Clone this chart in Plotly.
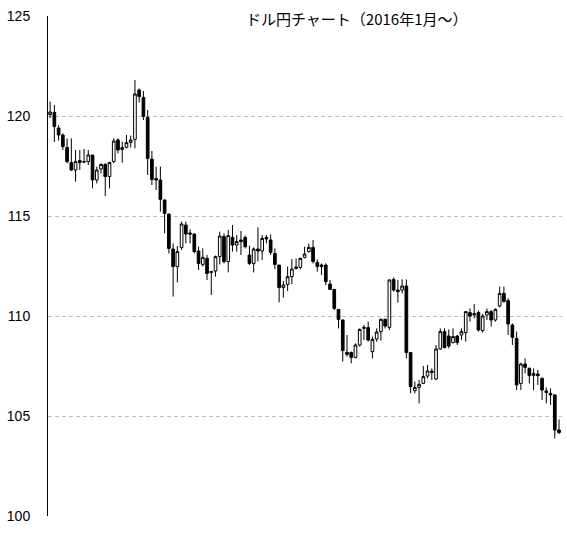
import plotly.graph_objects as go

# USD/JPY daily candles (Jan 2016 onwards)
open_ = [
    120.07, 120.18, 119.40, 119.05, 118.43, 117.67, 117.30, 117.77, 117.70, 117.72,
    118.05, 116.80, 117.35, 117.58, 116.97, 117.72, 118.80, 118.33, 118.43, 118.68,
    118.83, 121.30, 120.93, 119.93, 117.85, 116.87, 116.80, 115.80, 115.10, 113.35,
    112.47, 113.42, 114.55, 114.15, 114.10, 113.25, 112.58, 112.88, 112.17, 112.25,
    112.97, 113.97, 112.72, 113.93, 113.55, 113.80, 113.93, 113.05, 112.63, 113.35,
    113.25, 113.93, 113.80, 113.13, 112.55, 111.42, 111.58, 111.97, 112.38, 112.43,
    112.93, 113.22, 113.43, 112.68, 112.55, 112.55, 111.60, 111.33, 110.33, 109.80,
    108.18, 108.18, 107.93, 108.55, 109.38, 109.42, 108.22, 108.85, 109.22, 109.83,
    109.43, 111.83, 111.30, 111.30, 111.50, 108.17, 106.27, 106.43, 106.63, 107.00,
    107.25, 106.85, 108.35, 109.22, 109.00, 108.67, 109.00, 109.05, 109.17, 110.17,
    110.05, 110.17, 109.27, 110.05, 110.22, 109.80, 110.50, 111.13, 110.77, 109.55,
    108.88, 106.63, 107.60, 107.38, 107.02, 107.10, 106.88, 106.25, 106.13, 106.05,
    104.30,
]
high = [
    120.72, 120.55, 119.55, 119.13, 118.88, 118.88, 118.30, 118.30, 118.35, 118.30,
    118.05, 117.47, 117.63, 117.63, 117.72, 118.88, 118.88, 118.72, 119.05, 119.02,
    121.80, 121.38, 121.25, 120.30, 118.25, 117.47, 117.47, 115.83, 115.10, 113.63,
    113.50, 114.72, 114.72, 114.33, 114.13, 113.47, 113.38, 113.05, 112.25, 113.02,
    114.22, 114.13, 114.30, 114.55, 114.05, 114.25, 114.02, 113.52, 113.43, 114.43,
    114.05, 114.05, 114.08, 113.38, 112.55, 111.75, 112.47, 112.85, 112.88, 112.92,
    113.47, 113.63, 113.80, 112.83, 112.63, 112.63, 111.80, 111.33, 110.33, 109.83,
    109.05, 108.22, 108.63, 109.38, 109.55, 109.72, 108.97, 109.38, 109.88, 109.88,
    111.83, 111.93, 111.80, 111.83, 111.83, 108.17, 106.72, 106.80, 107.50, 107.55,
    107.38, 108.55, 109.38, 109.38, 109.33, 109.38, 109.05, 109.38, 110.22, 110.38,
    110.60, 110.27, 110.10, 110.38, 110.30, 110.38, 111.47, 111.47, 110.88, 109.63,
    109.22, 107.67, 107.88, 107.43, 107.38, 107.30, 106.93, 106.43, 106.38, 106.10,
    104.83,
]
low = [
    119.90, 118.70, 118.77, 118.30, 117.63, 117.25, 116.72, 117.30, 117.63, 117.55,
    116.38, 116.63, 117.13, 116.00, 116.38, 117.63, 118.13, 117.67, 118.38, 118.43,
    118.38, 120.68, 119.80, 117.05, 116.55, 116.30, 115.22, 114.13, 113.13, 110.97,
    111.68, 113.30, 113.63, 113.63, 113.13, 112.30, 112.47, 111.80, 111.05, 111.97,
    112.58, 112.63, 112.18, 113.22, 113.22, 113.05, 113.38, 112.55, 112.18, 112.72,
    112.80, 113.63, 113.05, 112.35, 110.68, 110.92, 111.25, 111.60, 112.33, 112.33,
    112.88, 113.17, 112.63, 112.22, 112.05, 111.55, 111.30, 110.30, 109.38, 107.72,
    107.97, 107.63, 107.88, 108.47, 108.80, 108.72, 107.88, 108.72, 108.77, 109.38,
    109.30, 111.22, 110.67, 111.13, 107.88, 106.13, 106.13, 105.63, 106.63, 106.88,
    106.80, 106.80, 108.30, 108.38, 108.38, 108.63, 108.55, 108.80, 108.72, 109.72,
    109.88, 109.22, 109.17, 109.80, 109.47, 109.72, 110.43, 110.67, 109.05, 108.55,
    106.30, 106.30, 107.13, 106.63, 106.30, 106.55, 105.80, 105.63, 105.55, 103.88,
    104.10,
]
close = [
    120.20, 119.47, 119.05, 118.47, 117.72, 117.30, 117.72, 117.67, 117.72, 118.05,
    116.80, 117.30, 117.58, 116.97, 117.67, 118.75, 118.30, 118.42, 118.67, 118.80,
    121.10, 120.97, 119.97, 117.88, 116.83, 116.80, 115.83, 115.13, 113.38, 112.47,
    113.22, 114.60, 114.10, 114.10, 113.22, 112.63, 112.93, 112.13, 112.23, 112.97,
    114.00, 112.72, 114.02, 113.55, 113.72, 113.72, 113.47, 112.63, 113.35, 113.25,
    113.88, 113.85, 113.18, 112.58, 111.42, 111.55, 111.97, 112.35, 112.45, 112.88,
    113.10, 113.43, 112.72, 112.47, 112.47, 111.72, 111.33, 110.38, 109.83, 108.27,
    108.08, 107.93, 108.55, 109.33, 109.43, 108.80, 108.83, 109.20, 109.83, 109.50,
    111.80, 111.30, 111.22, 111.50, 108.17, 106.47, 106.43, 106.58, 106.97, 107.25,
    107.18, 108.35, 109.22, 108.43, 108.50, 108.97, 108.67, 109.22, 110.22, 110.00,
    110.12, 109.30, 110.00, 110.22, 109.80, 110.33, 111.13, 110.72, 109.60, 108.93,
    106.55, 107.60, 107.43, 107.02, 107.13, 107.02, 106.30, 106.18, 106.05, 104.30,
    104.17,
]
day = list(range(len(close)))
y_ticks = [100, 105, 110, 115, 120, 125]
title_text = "ドル円チャート（2016年1月～）"

fig = go.Figure(
    go.Candlestick(
        x=day,
        open=open_,
        high=high,
        low=low,
        close=close,
        increasing=dict(line=dict(color="black", width=1), fillcolor="white"),
        decreasing=dict(line=dict(color="black", width=1), fillcolor="black"),
        whiskerwidth=0,
        hoverinfo="skip",
    )
)

fig.update_layout(
    width=567,
    height=533,
    margin=dict(l=48, r=5, t=16, b=17),
    paper_bgcolor="white",
    plot_bgcolor="white",
    showlegend=False,
    boxgap=0.1,
    xaxis=dict(
        range=[-0.5, 120.7],
        rangeslider=dict(visible=False),
        showgrid=False,
        showticklabels=False,
        zeroline=False,
        showline=False,
    ),
    yaxis=dict(
        range=[100, 125],
        tickvals=y_ticks,
        automargin=False,
        showgrid=True,
        gridcolor="#bdbdbd",
        griddash="4px,3px",
        gridwidth=1,
        zeroline=False,
        showline=True,
        linecolor="black",
        linewidth=1,
        ticks="",
        ticklabelstandoff=14,
        tickfont=dict(family="Arial, Liberation Sans", size=14, color="black"),
    ),
)

fig.add_annotation(
    text=title_text,
    xref="paper", yref="paper",
    x=0.6, y=1,
    xanchor="center", yanchor="middle",
    yshift=-2,
    showarrow=False,
    bgcolor="white",
    font=dict(family="Noto Sans CJK JP", size=15, color="black"),
)

# the page's default body margin would push the 567x533 figure out of the window
fig.write_html(
    "out.html",
    config={"displayModeBar": False},
    post_script="document.body.style.margin='0';",
)
